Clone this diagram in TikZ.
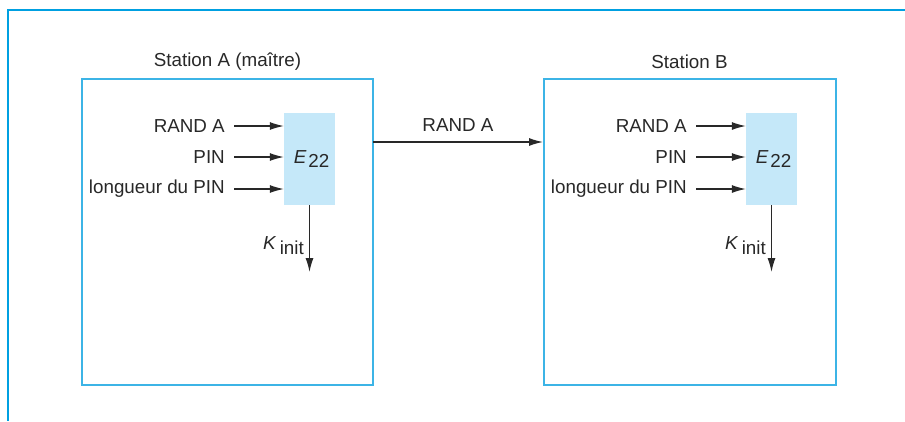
\documentclass[tikz,border=0pt]{standalone}
\usepackage{fontspec}
\setmainfont{Liberation Sans}
\usetikzlibrary{arrows.meta}
\definecolor{edgecyan}{RGB}{0,160,225}
\definecolor{boxblue}{RGB}{60,180,230}
\definecolor{fillblue}{RGB}{197,232,249}
\definecolor{ink}{RGB}{40,40,40}
\tikzset{
  station/.style={draw=boxblue,line width=1.5pt},
  cipher/.style={fill=fillblue,draw=none,minimum width=51pt,minimum height=92pt,inner sep=0pt,text=ink},
  lbl/.style={font=\fontsize{18.8}{22}\selectfont,text=ink,inner sep=0pt},
  arr/.style={draw=ink,line width=1.2pt,-{Latex[length=14pt,width=8pt]}}
}
\begin{document}
\begin{tikzpicture}[x=1pt,y=-1pt]
\useasboundingbox (0,0) rectangle (905,421);
\fill[edgecyan] (6.5,8.5) rectangle (905,10.5);
\fill[edgecyan] (6.5,8.5) rectangle (8.5,421);
% Station A
\draw[station] (82,79) rectangle (373,385);
\node[lbl] (tA) at (227.5,62) {Station A (maître)};
\node[cipher] (eA) at (309.5,159) {\fontsize{18.8}{22}\selectfont\hspace*{4pt}\itshape E\kern2pt\raisebox{-4pt}{\upshape 22}};
\node[lbl,anchor=east] (a1) at (225,126) {RAND A};
\node[lbl,anchor=east] (a2) at (225,157) {PIN};
\node[lbl,anchor=east] (a3) at (225,189) {longueur du PIN};
\coordinate (a1s) at (234,126); \coordinate (a2s) at (234,157); \coordinate (a3s) at (234,189);
\draw[arr] (a1s) -- (a1s -| eA.west);
\draw[arr] (a2s) -- (a2s -| eA.west);
\draw[arr] (a3s) -- (a3s -| eA.west);
\coordinate (kA) at (309.5,272);
\draw[arr] (eA.south) -- (kA);
\node[lbl,anchor=east] (klA) at (304,246) {\itshape K\kern4pt\raisebox{-5pt}{\upshape init}};
% Station B
\draw[station] (544,79) rectangle (836,385);
\node[lbl] (tB) at (689.5,62) {Station B};
\node[cipher] (eB) at (771.5,159) {\fontsize{18.8}{22}\selectfont\hspace*{4pt}\itshape E\kern2pt\raisebox{-4pt}{\upshape 22}};
\node[lbl,anchor=east] (b1) at (687,126) {RAND A};
\node[lbl,anchor=east] (b2) at (687,157) {PIN};
\node[lbl,anchor=east] (b3) at (687,189) {longueur du PIN};
\coordinate (b1s) at (696,126); \coordinate (b2s) at (696,157); \coordinate (b3s) at (696,189);
\draw[arr] (b1s) -- (b1s -| eB.west);
\draw[arr] (b2s) -- (b2s -| eB.west);
\draw[arr] (b3s) -- (b3s -| eB.west);
\coordinate (kB) at (771.5,272);
\draw[arr] (eB.south) -- (kB);
\node[lbl,anchor=east] (klB) at (766,246) {\itshape K\kern4pt\raisebox{-5pt}{\upshape init}};
% link
\coordinate (lA) at (373,142); \coordinate (lB) at (543,142);
\draw[arr] (lA) -- (lB);
\node[lbl] (rl) at (458,125) {RAND A};
\end{tikzpicture}
\end{document}
